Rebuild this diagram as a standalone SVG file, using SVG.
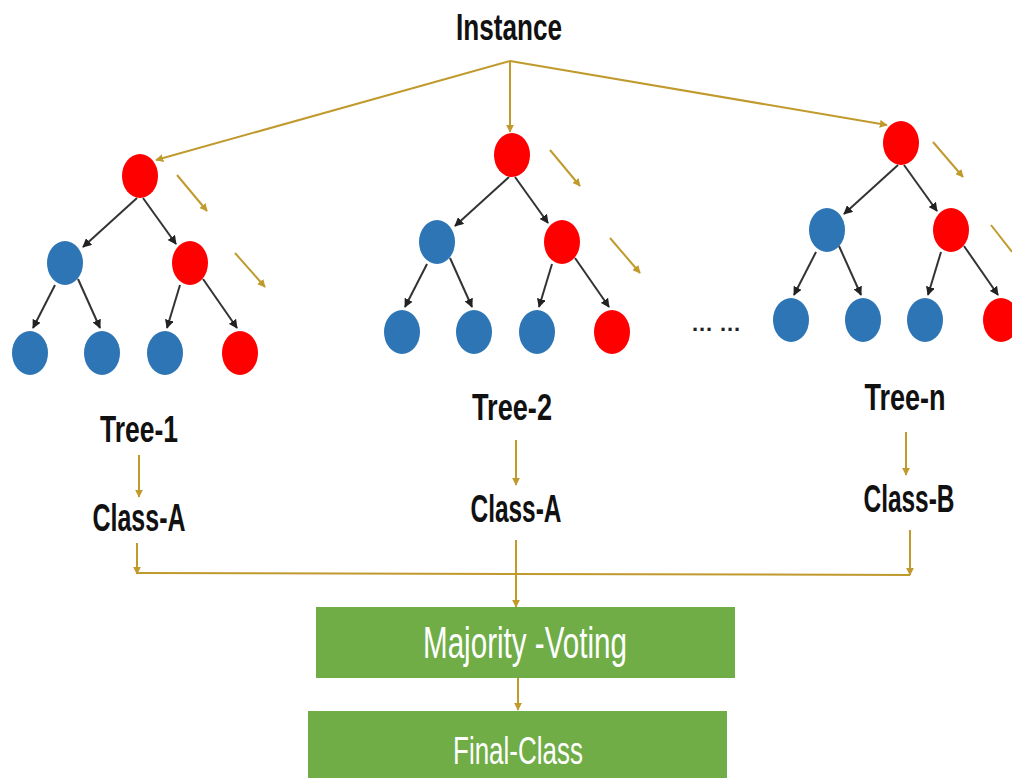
<svg xmlns="http://www.w3.org/2000/svg" xmlns:xlink="http://www.w3.org/1999/xlink" width="1012" height="778" viewBox="0 0 1012 778">
<style>
.lbl{font-family:"Liberation Sans",Arial,sans-serif;font-weight:bold;fill:#111;text-anchor:middle}
.box{fill:#70AD47}
.boxt{font-family:"Liberation Sans",Arial,sans-serif;fill:#fff;text-anchor:middle}
.red{fill:#FF0000}
.blue{fill:#2E75B6}
.edge{stroke:#333;stroke-width:2;fill:none;marker-end:url(#ab)}
.gold{stroke:#C19A2E;stroke-width:2;fill:none}
.ga{marker-end:url(#ag)}
</style>
<defs>
<marker id="ab" viewBox="0 0 10 10" refX="9" refY="5" markerWidth="9" markerHeight="9" markerUnits="userSpaceOnUse" orient="auto"><path d="M0,0 L10,5 L0,10 z" fill="#222"/></marker>
<marker id="ag" viewBox="0 0 10 10" refX="9" refY="5" markerWidth="8" markerHeight="8" markerUnits="userSpaceOnUse" orient="auto"><path d="M0,0 L10,5 L0,10 z" fill="#C19A2E"/></marker>
<g id="tedges">
<path class="edge" d="M-3,22 L-57,71"/>
<path class="edge" d="M3,22 L36,68"/>
<path class="edge" d="M-85,109 L-107,152"/>
<path class="edge" d="M-62,103 L-40,152"/>
<path class="edge" d="M40,109 L27,152"/>
<path class="edge" d="M63,103 L97,152"/>
</g>
</defs>
<rect width="1012" height="778" fill="#fff"/>
<g id="connectors">
<use xlink:href="#tedges" transform="translate(140,176)"/>
<use xlink:href="#tedges" transform="translate(512,155)"/>
<use xlink:href="#tedges" transform="translate(901,143)"/>
<path class="gold ga" d="M510,61 L156,160"/>
<path class="gold ga" d="M510,61 L510,132"/>
<path class="gold ga" d="M510,61 L887,125"/>
<path class="gold ga" d="M177,175 L207,211"/>
<path class="gold ga" d="M235,253 L265,287"/>
<path class="gold ga" d="M550,150 L580,186"/>
<path class="gold ga" d="M610,238 L640,273"/>
<path class="gold ga" d="M933,142 L963,177"/>
<path class="gold" d="M991,225 L1012,252"/>
<path class="gold ga" d="M139,455 L139,497"/>
<path class="gold ga" d="M516,440 L516,485"/>
<path class="gold ga" d="M906,432 L906,475"/>
<path class="gold ga" d="M137,543 L137,574"/>
<path class="gold ga" d="M910,530 L910,575"/>
<path class="gold" d="M137,573 L910,575"/>
<path class="gold ga" d="M516,540 L516,607"/>
<path class="gold ga" d="M518,678 L518,710"/>
</g>
<g id="instance"><text class="lbl" x="509" y="40" font-size="36" textLength="106" lengthAdjust="spacingAndGlyphs">Instance</text></g>
<g id="tree-1">
<ellipse class="red" cx="140" cy="176" rx="18" ry="22"/>
<ellipse class="blue" cx="65" cy="263" rx="18" ry="22"/>
<ellipse class="red" cx="190" cy="263" rx="18" ry="22"/>
<ellipse class="blue" cx="30" cy="353" rx="18" ry="22"/>
<ellipse class="blue" cx="102" cy="353" rx="18" ry="22"/>
<ellipse class="blue" cx="165" cy="353" rx="18" ry="22"/>
<ellipse class="red" cx="240" cy="353" rx="18" ry="22"/>
<text class="lbl" x="139" y="442" font-size="36" textLength="78" lengthAdjust="spacingAndGlyphs">Tree-1</text>
</g>
<g id="tree-2">
<ellipse class="red" cx="512" cy="155" rx="18" ry="22"/>
<ellipse class="blue" cx="437" cy="242" rx="18" ry="22"/>
<ellipse class="red" cx="562" cy="242" rx="18" ry="22"/>
<ellipse class="blue" cx="402" cy="332" rx="18" ry="22"/>
<ellipse class="blue" cx="474" cy="332" rx="18" ry="22"/>
<ellipse class="blue" cx="537" cy="332" rx="18" ry="22"/>
<ellipse class="red" cx="612" cy="332" rx="18" ry="22"/>
<text class="lbl" x="512" y="420" font-size="36" textLength="80" lengthAdjust="spacingAndGlyphs">Tree-2</text>
</g>
<g id="tree-n">
<ellipse class="red" cx="901" cy="143" rx="18" ry="22"/>
<ellipse class="blue" cx="827" cy="230" rx="18" ry="22"/>
<ellipse class="red" cx="951" cy="230" rx="18" ry="22"/>
<ellipse class="blue" cx="791" cy="320" rx="18" ry="22"/>
<ellipse class="blue" cx="863" cy="320" rx="18" ry="22"/>
<ellipse class="blue" cx="925" cy="320" rx="18" ry="22"/>
<ellipse class="red" cx="1001" cy="320" rx="18" ry="22"/>
<text class="lbl" x="905" y="410" font-size="36" textLength="81" lengthAdjust="spacingAndGlyphs">Tree-n</text>
</g>
<g id="dots"><text x="716" y="331" font-family="Liberation Sans, sans-serif" font-weight="bold" font-size="22" fill="#222" text-anchor="middle" textLength="48" lengthAdjust="spacing">... ...</text></g>
<g id="class-1"><text class="lbl" x="139" y="531" font-size="38" textLength="93" lengthAdjust="spacingAndGlyphs">Class-A</text></g>
<g id="class-2"><text class="lbl" x="516" y="522" font-size="38" textLength="91" lengthAdjust="spacingAndGlyphs">Class-A</text></g>
<g id="class-n"><text class="lbl" x="909" y="512" font-size="38" textLength="91" lengthAdjust="spacingAndGlyphs">Class-B</text></g>
<g id="majority">
<rect class="box" x="316" y="607" width="419" height="71"/>
<text class="boxt" x="525" y="658" font-size="44" textLength="204" lengthAdjust="spacingAndGlyphs">Majority -Voting</text>
</g>
<g id="final">
<rect class="box" x="308" y="711" width="419" height="67"/>
<text class="boxt" x="518" y="764" font-size="38" textLength="130" lengthAdjust="spacingAndGlyphs">Final-Class</text>
</g>
</svg>
